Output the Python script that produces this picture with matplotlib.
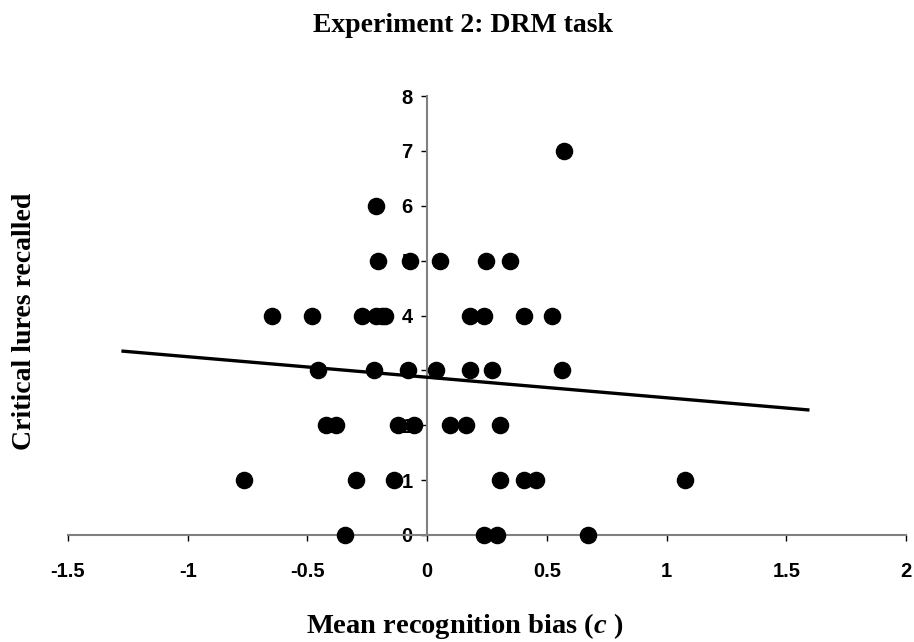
import matplotlib
matplotlib.use("Agg")
import matplotlib.pyplot as plt
import numpy as np

# recognition bias (c) and critical lures recalled
bias = [0.571,
        -0.213,
        -0.205, -0.071, 0.054, 0.245, 0.345,
        -0.647, -0.480, -0.273, -0.213, -0.190, -0.175, 0.178, 0.237, 0.404, 0.521,
        -0.454, -0.223, -0.078, 0.038, 0.180, 0.270, 0.563,
        -0.422, -0.380, -0.123, -0.056, 0.096, 0.162, 0.304,
        -0.763, -0.298, -0.137, 0.304, 0.404, 0.455, 1.079,
        -0.345, 0.237, 0.291, 0.671]
lures = [7,
         6,
         5, 5, 5, 5, 5,
         4, 4, 4, 4, 4, 4, 4, 4, 4, 4,
         3, 3, 3, 3, 3, 3, 3,
         2, 2, 2, 2, 2, 2, 2,
         1, 1, 1, 1, 1, 1, 1,
         0, 0, 0, 0]

# trend line ends as drawn in the reference
trend_x = [-1.27, 1.59]
trend_y = [3.35, 2.28]

x_ticks = [-1.5, -1, -0.5, 0, 0.5, 1, 1.5, 2]
y_ticks = [0, 1, 2, 3, 4, 5, 6, 7, 8]

plt.rcParams["mathtext.fontset"] = "custom"
plt.rcParams["mathtext.it"] = "Liberation Serif:italic:bold"
plt.rcParams["mathtext.rm"] = "Liberation Serif:bold"

fig = plt.figure(figsize=(9.14, 6.42), dpi=100)
ax = fig.add_axes([68 / 914, 1 - 535 / 642, 838 / 914, 439 / 642])

ax.scatter(bias, lures, s=135, color="black", zorder=4, clip_on=False)
ax.plot(trend_x, trend_y, color="black", linewidth=2.4, zorder=3)

ax.set_xlim(-1.5, 2)
ax.set_ylim(0, 8)

ax.spines["left"].set_position(("data", 0))
ax.spines["bottom"].set_position(("data", 0))
ax.spines["right"].set_visible(False)
ax.spines["top"].set_visible(False)
for side in ["left", "bottom"]:
    ax.spines[side].set_color("#808080")
    ax.spines[side].set_linewidth(1.5)

ax.set_xticks(x_ticks)
ax.set_xticklabels([f"{t:g}" for t in x_ticks])
ax.set_yticks(y_ticks)
ax.tick_params(axis="x", direction="out", length=4.3, width=1, color="black", pad=15)
ax.tick_params(axis="y", direction="out", length=4.3, width=1, color="black", pad=6)
for lab in ax.get_xticklabels() + ax.get_yticklabels():
    lab.set_family("Liberation Sans")
    lab.set_fontweight("bold")
    lab.set_fontsize(14.5)

fig.text(463 / 914, 1 - 25 / 642, "Experiment 2: DRM task", ha="center", va="center",
         family="Liberation Serif", fontweight="bold", fontsize=20)
fig.text(465 / 914, 1 - 626 / 642, r"Mean recognition bias ($c$ )", ha="center", va="center",
         family="Liberation Serif", fontweight="bold", fontsize=20.5)
fig.text(25 / 914, 1 - 321 / 642, "Critical lures recalled", ha="center", va="center",
         rotation=90, family="Liberation Serif", fontweight="bold", fontsize=20)

fig.savefig("out.png", dpi=100)
